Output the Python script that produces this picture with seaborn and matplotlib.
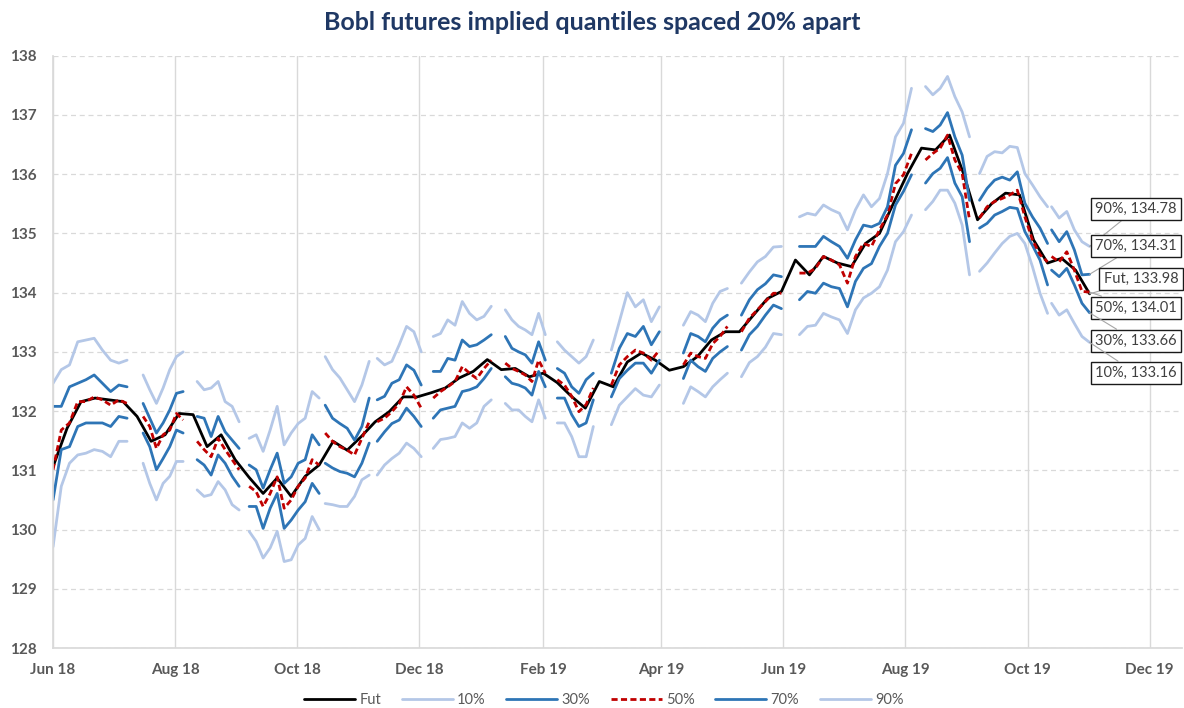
import pandas as pd
import matplotlib
matplotlib.use("Agg")
import matplotlib.pyplot as plt
import matplotlib.dates as mdates
from matplotlib.ticker import MultipleLocator
import seaborn as sns

# weekly futures price, Fridays from 1 Jun 2018
fut = [131.06, 131.71, 132.16, 132.22, 132.19, 132.16, 131.91, 131.49, 131.60, 131.96,
       131.94, 131.40, 131.60, 131.18, 130.88, 130.61, 130.87, 130.56, 130.90, 131.09,
       131.49, 131.34, 131.57, 131.82, 131.99, 132.24, 132.24, 132.31, 132.39, 132.56,
       132.67, 132.87, 132.70, 132.72, 132.58, 132.64, 132.48, 132.25, 132.05, 132.50,
       132.41, 132.83, 132.98, 132.86, 132.69, 132.75, 132.92, 133.20, 133.34, 133.34,
       133.62, 133.90, 134.02, 134.55, 134.30, 134.61, 134.50, 134.44, 134.83, 135.00,
       135.51, 136.01, 136.44, 136.41, 136.66, 136.01, 135.23, 135.50, 135.68, 135.65,
       134.89, 134.50, 134.58, 134.38, 133.98]

# option expiry windows the quantiles are computed over
seg_start = ["2018-06-01", "2018-07-16", "2018-08-12", "2018-09-07", "2018-10-15", "2018-11-10",
             "2018-12-08", "2019-01-13", "2019-02-08", "2019-03-07", "2019-04-12", "2019-05-11",
             "2019-06-09", "2019-08-11", "2019-09-07", "2019-10-13"]
seg_end = ["2018-07-08", "2018-08-05", "2018-09-02", "2018-10-12", "2018-11-06", "2018-12-02",
           "2019-01-06", "2019-02-02", "2019-02-26", "2019-03-31", "2019-05-04", "2019-05-31",
           "2019-08-04", "2019-09-02", "2019-10-11", "2019-11-01"]

q10 = [[129.71, 130.73, 131.12, 131.26, 131.29, 131.35, 131.32, 131.23, 131.49, 131.49],
       [131.12, 130.78, 130.50, 130.78, 130.90, 131.15, 131.15],
       [130.67, 130.56, 130.59, 130.81, 130.67, 130.42, 130.33],
       [129.97, 129.80, 129.52, 129.69, 129.97, 129.46, 129.49, 129.74, 129.85, 130.22, 130.00],
       [130.44, 130.42, 130.39, 130.39, 130.56, 130.84, 130.92],
       [130.92, 131.09, 131.20, 131.29, 131.46, 131.37, 131.23],
       [131.37, 131.52, 131.54, 131.57, 131.80, 131.71, 131.80, 132.08, 132.19],
       [132.13, 132.02, 132.02, 131.91, 131.82, 132.19, 131.88],
       [131.80, 131.80, 131.57, 131.23, 131.23, 131.74],
       [131.77, 132.10, 132.24, 132.38, 132.27, 132.24, 132.44],
       [132.13, 132.41, 132.33, 132.24, 132.41, 132.53, 132.64],
       [132.58, 132.82, 132.92, 133.08, 133.31, 133.29],
       [133.29, 133.43, 133.45, 133.65, 133.59, 133.54, 133.31, 133.71, 133.91, 133.99, 134.10,
        134.38, 134.86, 135.03, 135.31],
       [135.40, 135.54, 135.73, 135.73, 135.51, 135.14, 134.30],
       [134.36, 134.50, 134.67, 134.83, 134.95, 135.00, 134.83, 134.44, 133.99, 133.65],
       [133.82, 133.62, 133.71, 133.48, 133.26, 133.16]]

q30 = [[130.50, 131.35, 131.40, 131.74, 131.80, 131.80, 131.80, 131.74, 131.91, 131.88],
       [131.63, 131.40, 131.01, 131.20, 131.40, 131.68, 131.63],
       [131.18, 131.09, 130.92, 131.26, 131.12, 130.90, 130.73],
       [130.39, 130.39, 130.02, 130.36, 130.61, 130.02, 130.16, 130.33, 130.47, 130.78, 130.61],
       [131.12, 131.04, 130.98, 130.95, 130.89, 131.12, 131.46],
       [131.49, 131.65, 131.79, 131.85, 132.05, 131.91, 131.74],
       [131.88, 132.02, 132.05, 132.08, 132.33, 132.36, 132.41, 132.55, 132.72],
       [132.58, 132.47, 132.44, 132.39, 132.27, 132.67, 132.41],
       [132.22, 132.22, 131.94, 131.74, 131.80, 132.19],
       [132.24, 132.55, 132.69, 132.81, 132.81, 132.64, 132.86],
       [132.55, 132.86, 132.75, 132.67, 132.89, 133.00, 133.09],
       [133.03, 133.29, 133.43, 133.62, 133.79, 133.73],
       [133.88, 134.02, 133.99, 134.16, 134.10, 134.07, 133.76, 134.19, 134.41, 134.49, 134.78,
        135.00, 135.48, 135.71, 135.99],
       [135.85, 136.01, 136.10, 136.28, 135.85, 135.62, 134.86],
       [135.09, 135.17, 135.31, 135.37, 135.44, 135.42, 135.03, 134.80, 134.55, 134.13],
       [134.38, 134.27, 134.41, 134.13, 133.82, 133.66]]

q50 = [[131.01, 131.68, 131.80, 132.16, 132.16, 132.24, 132.19, 132.10, 132.19, 132.13],
       [131.91, 131.74, 131.37, 131.60, 131.68, 131.96, 131.85],
       [131.49, 131.35, 131.23, 131.54, 131.35, 131.18, 131.01],
       [130.73, 130.64, 130.39, 130.61, 130.89, 130.36, 130.50, 130.73, 130.87, 131.18, 131.09],
       [131.63, 131.49, 131.40, 131.34, 131.26, 131.54, 131.82],
       [131.82, 131.88, 131.99, 132.13, 132.41, 132.27, 132.05],
       [132.22, 132.33, 132.41, 132.50, 132.75, 132.64, 132.55, 132.72, 132.86],
       [132.81, 132.72, 132.67, 132.61, 132.50, 132.86, 132.64],
       [132.53, 132.44, 132.25, 131.99, 132.11, 132.39],
       [132.44, 132.78, 132.92, 133.03, 132.98, 132.86, 133.03],
       [132.78, 132.98, 132.92, 132.89, 133.14, 133.26, 133.43],
       [133.34, 133.57, 133.71, 133.85, 133.99, 133.99],
       [134.33, 134.33, 134.41, 134.61, 134.55, 134.47, 134.16, 134.61, 134.83, 134.78, 135.06,
        135.31, 135.84, 135.99, 136.35],
       [136.24, 136.35, 136.44, 136.66, 136.24, 136.01, 135.23],
       [135.26, 135.45, 135.54, 135.59, 135.65, 135.73, 135.28, 134.89, 134.64, 134.52],
       [134.61, 134.52, 134.69, 134.38, 134.02, 134.01]]

q70 = [[132.08, 132.08, 132.41, 132.47, 132.53, 132.61, 132.47, 132.33, 132.44, 132.41],
       [132.13, 131.88, 131.63, 131.80, 132.02, 132.30, 132.33],
       [131.91, 131.88, 131.57, 131.91, 131.65, 131.51, 131.37],
       [131.09, 131.01, 130.70, 131.01, 131.29, 130.78, 130.89, 131.12, 131.18, 131.60, 131.43],
       [132.10, 131.88, 131.79, 131.71, 131.51, 131.74, 132.22],
       [132.19, 132.25, 132.47, 132.53, 132.78, 132.69, 132.44],
       [132.67, 132.67, 132.89, 132.86, 133.20, 133.09, 133.12, 133.20, 133.29],
       [133.26, 133.06, 133.00, 132.95, 132.81, 133.17, 132.86],
       [132.72, 132.64, 132.41, 132.30, 132.53, 132.64],
       [132.64, 133.06, 133.31, 133.26, 133.43, 133.12, 133.34],
       [132.98, 133.31, 133.26, 133.17, 133.40, 133.54, 133.62],
       [133.62, 133.88, 134.05, 134.15, 134.30, 134.27],
       [134.78, 134.78, 134.78, 134.95, 134.86, 134.78, 134.58, 134.89, 135.14, 135.11, 135.17,
        135.45, 136.15, 136.35, 136.75],
       [136.77, 136.72, 136.83, 137.04, 136.63, 136.32, 135.56],
       [135.56, 135.76, 135.90, 135.95, 135.90, 136.04, 135.51, 135.28, 135.09, 134.83],
       [135.06, 134.86, 135.03, 134.72, 134.30, 134.31]]

q90 = [[132.47, 132.70, 132.78, 133.17, 133.20, 133.23, 133.03, 132.86, 132.81, 132.86],
       [132.61, 132.36, 132.13, 132.39, 132.70, 132.92, 133.00],
       [132.50, 132.36, 132.39, 132.50, 132.16, 132.08, 131.82],
       [131.54, 131.60, 131.32, 131.68, 132.08, 131.43, 131.63, 131.79, 131.88, 132.33, 132.22],
       [132.92, 132.70, 132.56, 132.36, 132.16, 132.44, 132.84],
       [132.89, 132.78, 132.84, 133.12, 133.43, 133.34, 133.00],
       [133.26, 133.31, 133.54, 133.45, 133.85, 133.65, 133.54, 133.60, 133.77],
       [133.71, 133.54, 133.43, 133.37, 133.29, 133.65, 133.29],
       [133.17, 133.03, 132.92, 132.81, 132.92, 133.20],
       [133.03, 133.51, 134.00, 133.76, 133.88, 133.51, 133.76],
       [133.45, 133.68, 133.62, 133.51, 133.82, 134.02, 134.07],
       [134.16, 134.35, 134.52, 134.61, 134.77, 134.78],
       [135.28, 135.34, 135.31, 135.48, 135.40, 135.34, 135.06, 135.40, 135.65, 135.45, 135.59,
        136.01, 136.63, 136.86, 137.45],
       [137.48, 137.34, 137.45, 137.65, 137.31, 137.05, 136.63],
       [136.01, 136.30, 136.38, 136.36, 136.47, 136.45, 136.01, 135.82, 135.62, 135.45],
       [135.45, 135.26, 135.37, 135.06, 134.86, 134.78]]

fut_dates = pd.date_range("2018-06-01", periods=len(fut), freq="7D")


def seg_frame(segs):
    parts = []
    for i, vals in enumerate(segs):
        d = pd.date_range(seg_start[i], seg_end[i], periods=len(vals))
        parts.append(pd.DataFrame({"date": d, "value": vals, "seg": i}))
    return pd.concat(parts, ignore_index=True)


LIGHT = "#B4C7E7"
MID = "#2E75B6"
RED = "#C00000"
GRID = "#D9D9D9"
TXT = "#595959"

sns.set_theme(style="white")
plt.rcParams["font.family"] = ["Lato", "DejaVu Sans"]

fig, ax = plt.subplots(figsize=(11.84, 7.08), dpi=100)
fig.subplots_adjust(left=0.0448, right=0.998, bottom=0.0847, top=0.9213)

sns.lineplot(x=fut_dates, y=fut, color="black", linewidth=2, label="Fut", ax=ax)

series = [("10%", q10, LIGHT, "-"), ("30%", q30, MID, "-"), ("50%", q50, RED, (0, (2.2, 1.2))),
          ("70%", q70, MID, "-"), ("90%", q90, LIGHT, "-")]
for name, segs, col, ls in series:
    sns.lineplot(data=seg_frame(segs), x="date", y="value", units="seg", estimator=None,
                 color=col, linewidth=2, linestyle=ls, label=name, ax=ax)

ax.set_ylim(128, 138)
ax.yaxis.set_major_locator(MultipleLocator(1))
ax.set_xlim(mdates.date2num(pd.Timestamp("2018-06-01")), mdates.date2num(pd.Timestamp("2019-12-17")))
ax.xaxis.set_major_locator(mdates.MonthLocator(bymonth=(2, 4, 6, 8, 10, 12)))
ax.xaxis.set_major_formatter(mdates.DateFormatter("%b %y"))
ax.set_xlabel("")
ax.set_ylabel("")

ax.grid(axis="x", color=GRID, linewidth=1, linestyle="-")
ax.grid(axis="y", color=GRID, linewidth=0.9, linestyle=(0, (4, 3)))
ax.set_axisbelow(True)
for s in ["top", "right"]:
    ax.spines[s].set_visible(False)
ax.spines["left"].set_color(GRID)
ax.spines["bottom"].set_color(GRID)
ax.tick_params(length=0, labelsize=11, labelcolor=TXT)
ax.tick_params(axis="y", pad=12)
ax.tick_params(axis="x", pad=11)
for lab in ax.get_xticklabels() + ax.get_yticklabels():
    lab.set_fontweight("bold")

# end-of-series labels
end_date = mdates.date2num(pd.Timestamp(seg_end[-1]))
fut_end = mdates.date2num(fut_dates[-1])
labels = [("90%", q90[-1][-1], end_date, 1136, 209),
          ("70%", q70[-1][-1], end_date, 1136, 246),
          ("Fut", fut[-1], fut_end, 1141, 279),
          ("50%", q50[-1][-1], end_date, 1136, 308),
          ("30%", q30[-1][-1], end_date, 1136, 341),
          ("10%", q10[-1][-1], end_date, 1136, 373)]
for name, val, xd, px, py in labels:
    ax.annotate(f"{name}, {val:.2f}", xy=(xd, val), xytext=(px, 708 - py),
                textcoords="figure pixels", ha="center", va="center", fontsize=10.5,
                color="#404040", annotation_clip=False,
                bbox=dict(boxstyle="square,pad=0.3", fc="white", ec="#1a1a1a", lw=1),
                arrowprops=dict(arrowstyle="-", color="#A6A6A6", lw=0.8,
                                shrinkA=0, shrinkB=0))

handles, labs = ax.get_legend_handles_labels()
uniq = dict(zip(labs, handles))
if ax.get_legend() is not None:
    ax.get_legend().remove()
fig.legend(list(uniq.values()), list(uniq.keys()), loc="center", ncol=6,
           bbox_to_anchor=(0.51, 1 - 700 / 708), frameon=False, fontsize=10.5,
           handlelength=3.5, handletextpad=0.3, columnspacing=1.4, labelcolor=TXT)

fig.text(0.5, 1 - 22 / 708, "Bobl futures implied quantiles spaced 20% apart",
         ha="center", va="center", fontsize=18, fontweight="bold", color="#1F3864")

fig.savefig("out.png", dpi=100)
